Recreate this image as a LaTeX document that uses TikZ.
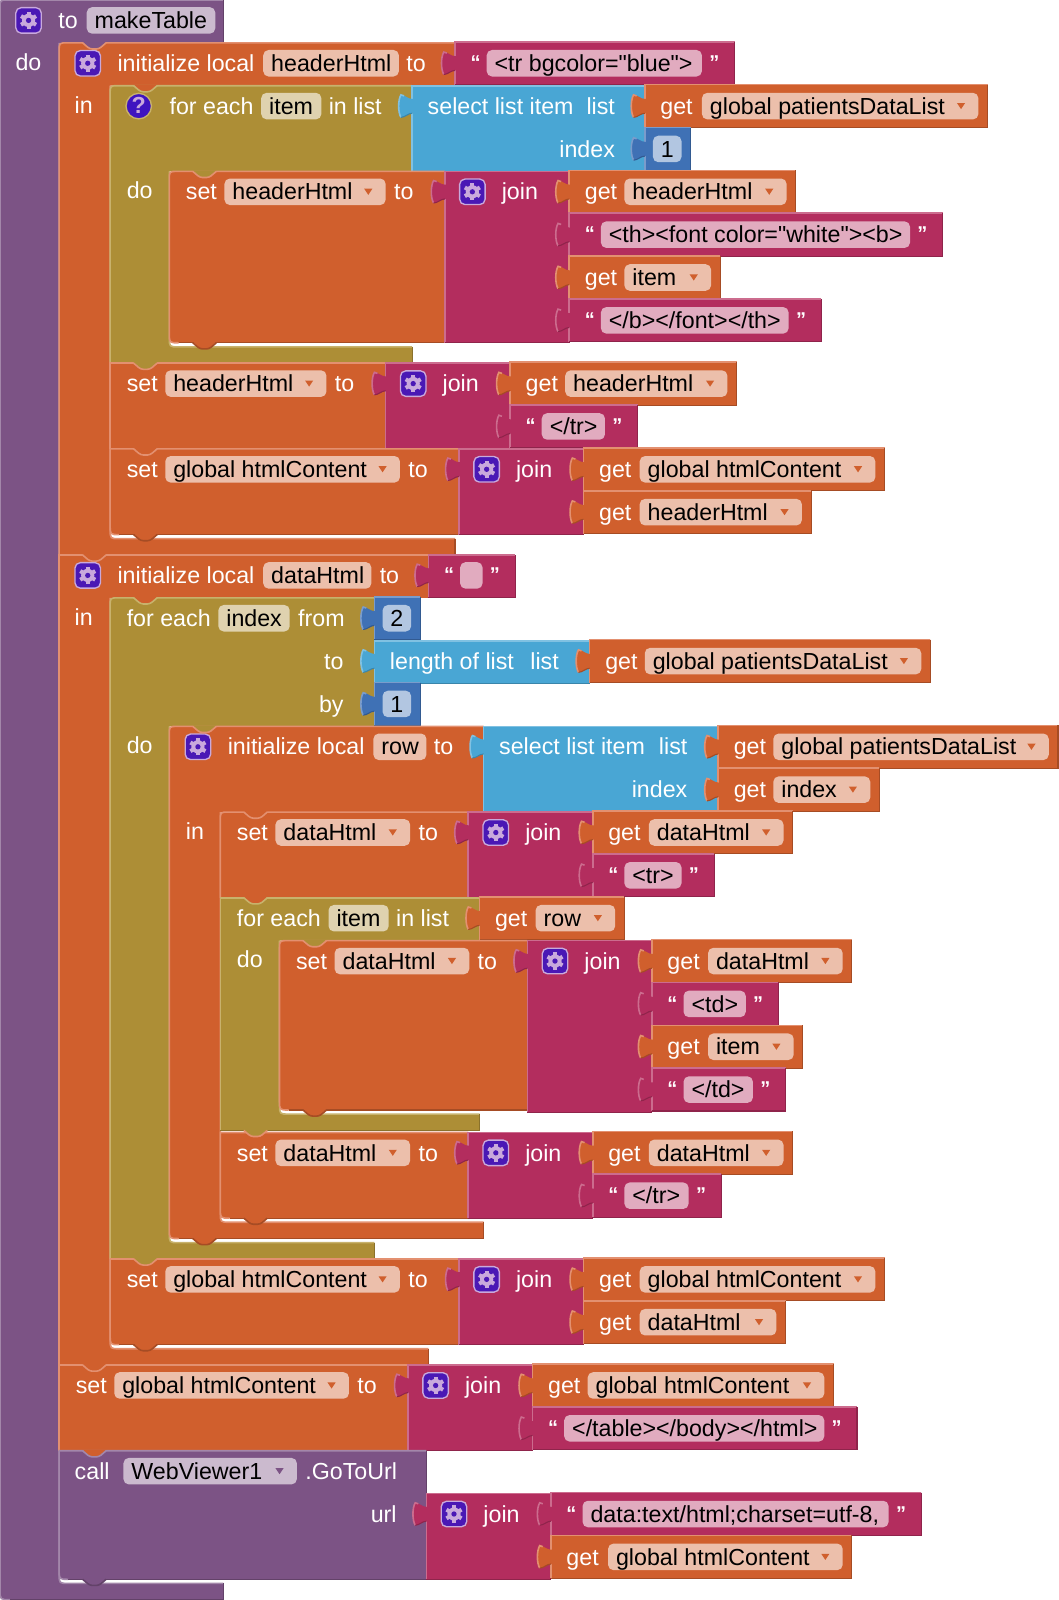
\documentclass[tikz,border=0pt]{standalone}
\usepackage{fontspec}
\defaultfontfeatures[\rmfamily]{}
\setmainfont{Liberation Sans}
\definecolor{purfill}{HTML}{7C5385}\definecolor{puredge}{HTML}{A387AA}\definecolor{purdark}{HTML}{634269}\definecolor{purfield}{HTML}{CBBACE}
\definecolor{orgfill}{HTML}{D05F2D}\definecolor{orgedge}{HTML}{E39070}\definecolor{orgdark}{HTML}{A64C24}\definecolor{orgfield}{HTML}{ECBFAB}
\definecolor{olvfill}{HTML}{AD8E36}\definecolor{olvedge}{HTML}{C8B26C}\definecolor{olvdark}{HTML}{8A712B}\definecolor{olvfield}{HTML}{DFD2AF}
\definecolor{magfill}{HTML}{B32D5E}\definecolor{magedge}{HTML}{CC6C8E}\definecolor{magdark}{HTML}{8F244B}\definecolor{magfield}{HTML}{E1ABBF}
\definecolor{bluefill}{HTML}{49A6D4}\definecolor{blueedge}{HTML}{80C1E2}\definecolor{bluedark}{HTML}{3A85AA}
\definecolor{numfill}{HTML}{3F71B5}\definecolor{numedge}{HTML}{7A9CCB}\definecolor{numdark}{HTML}{325A91}\definecolor{numfield}{HTML}{B2C6E1}
\definecolor{iconfill}{HTML}{4A18B5}\definecolor{iconedge}{HTML}{C9A9DC}
\newcommand\rowfont{\fontsize{17.42}{20}\selectfont}
\newcommand\quotefont{\fontsize{15}{18}\selectfont\bfseries}
\tikzset{
  lbl/.style={text=white,inner sep=0pt,anchor=base west,font=\rowfont},
  lblright/.style={lbl,anchor=base east},
  fldtxt/.style={lbl,text=black},
  numtxt/.style={fldtxt,anchor=base},
  quotetxt/.style={lbl,font=\quotefont},
  edgeline/.style={line width=1.2pt},
  darkline/.style={line width=0.8pt}
}
\newcounter{lblno}
\newcommand\lbl[3]{\stepcounter{lblno}\node[lbl] (t\arabic{lblno}) at (#1,#2+8) {#3};}
\newcommand\lblr[3]{\stepcounter{lblno}\node[lblright] (t\arabic{lblno}) at (#1,#2+8) {#3};}
% plain field, field with a drop arrow
\newcommand\fld[5]{\stepcounter{lblno}
  \fill[#1field,rounded corners=4pt] (#2,#4-13) rectangle (#3,#4+13);
  \node[fldtxt] (t\arabic{lblno}) at (#2+7.6,#4+8) {#5};}
\newcommand\fldd[5]{\fld{#1}{#2}{#3}{#4}{#5}
  \fill[#1fill] (#3-21,#4-3) -- (#3-13,#4-3) -- (#3-17,#4+3) -- cycle;}
% block with optional round corners: colour, top radius, bottom radius, x1, y1, x2, y2
\newcommand\sblock[7]{
  \fill[#1fill] (#4+#2,#5) -- (#6,#5) -- (#6,#7) -- (#4+#3,#7) .. controls (#4,#7) .. (#4,#7-#3) -- (#4,#5+#2) .. controls (#4,#5) .. (#4+#2,#5) -- cycle;
  \draw[edgeline,#1edge] (#4+#3,#7) .. controls (#4,#7) .. (#4,#7-#3) -- (#4,#5+#2) .. controls (#4,#5) .. (#4+#2,#5) -- (#6,#5);
  \draw[darkline,#1dark] (#4+#3,#7) -- (#6,#7) -- (#6,#5);
}
% C shape: colour, top radius, bottom radius, x0, y0, xr, y1, xi, y2
\newcommand\cblock[9]{
  \fill[#1fill] (#4+#2,#5) -- (#6,#5) -- (#6,#7) -- (#8,#7) -- (#8,#9-9) .. controls (#8,#9) .. (#8+9,#9) -- (#6,#9) -- (#6,#9+16) -- (#4+#3,#9+16) .. controls (#4,#9+16) .. (#4,#9+16-#3) -- (#4,#5+#2) .. controls (#4,#5) .. (#4+#2,#5) -- cycle;
  \draw[edgeline,#1edge] (#4+#3,#9+16) .. controls (#4,#9+16) .. (#4,#9+16-#3) -- (#4,#5+#2) .. controls (#4,#5) .. (#4+#2,#5) -- (#6,#5);
  \draw[edgeline,#1edge] (#8,#7) -- (#8,#9-9) .. controls (#8,#9) .. (#8+9,#9) -- (#6,#9);
  \draw[darkline,#1dark] (#4+#3,#9+16) -- (#6,#9+16) -- (#6,#9);
  \draw[darkline,#1dark] (#6,#7) -- (#6,#5);
}
% puzzle tab on the left side of a value block
\newcommand\plug[3]{
  \fill[#1fill] (#2+1,#3-7) -- (#2,#3-7) .. controls (#2-4,#3-7) and (#2-7,#3-11) .. (#2-11,#3-11)
    .. controls (#2-14,#3-6) and (#2-14,#3+6) .. (#2-11,#3+11)
    .. controls (#2-7,#3+11) and (#2-4,#3+7) .. (#2,#3+7) -- (#2+1,#3+7) -- cycle;
  \draw[edgeline,#1edge] (#2-8,#3-10) -- (#2-11,#3-11) .. controls (#2-14,#3-6) and (#2-14,#3+6) .. (#2-11,#3+11);
  \draw[darkline,#1dark] (#2-11,#3+11) .. controls (#2-7,#3+11) and (#2-4,#3+7) .. (#2,#3+7);
}
% the dip of one statement into the next one
\newcommand\notch[4]{
  \fill[#1] (#3+23,#4-1) -- (#3+30,#4+6) -- (#3+39,#4+6) -- (#3+46,#4-1) -- cycle;
  \draw[edgeline,#2,rounded corners=2pt] (#3+23,#4) -- (#3+30,#4+6) -- (#3+39,#4+6) -- (#3+46,#4);
}
\newcommand\gear[2]{
  \filldraw[fill=iconfill,draw=iconedge,line width=1pt,rounded corners=4pt] (#1-12.5,#2-12.5) rectangle (#1+12.5,#2+12.5);
  \foreach \a in {30,90,...,330} {
    \draw[iconedge,line width=3pt] (#1,#2) ++(\a:5) -- ++(\a:3.5);
  }
  \fill[iconedge] (#1,#2) circle (6.5);
  \fill[iconfill] (#1,#2) circle (2.6);
}
\newcommand\getblk[5]{ % x1, x2, row, field start, text
  \sblock{org}{0}{0}{#1}{#3-21}{#2}{#3+21}
  \plug{org}{#1}{#3}
  \lbl{#1+15}{#3}{get}
  \fldd{org}{#4}{#2-9}{#3}{#5}
}
\newcommand\qtl[2]{\stepcounter{lblno}\node[quotetxt] (t\arabic{lblno}) at (#1,#2+6) {“};}
\newcommand\qtr[2]{\stepcounter{lblno}\node[quotetxt] (t\arabic{lblno}) at (#1,#2+6) {”};}
\newcommand\strblk[4]{ % x1, x2, row, text
  \sblock{mag}{0}{0}{#1}{#3-21}{#2}{#3+21}
  \plug{mag}{#1}{#3}
  \qtl{#1+15}{#3}
  \fld{mag}{#1+31}{#2-32}{#3}{#4}
  \qtr{#2-25}{#3}
}
\newcommand\numblk[3]{ % x1, row, text
  \sblock{num}{0}{0}{#1}{#2-21}{#1+45}{#2+21}
  \plug{num}{#1}{#2}
  \fill[numfield,rounded corners=4pt] (#1+8,#2-13) rectangle (#1+36,#2+13);
  \stepcounter{lblno}\node[numtxt] (t\arabic{lblno}) at (#1+22,#2+8) {#3};
}
\newcommand\joinblk[4]{ % x1, x2, y1, y2
  \sblock{mag}{0}{0}{#1}{#3}{#2}{#4}
  \plug{mag}{#1}{#3+20}
  \gear{#1+27}{#3+20}
  \lbl{#1+55.6}{#3+20}{join}
}
\newcommand\setblk[9]{ % radius, radius, x1, y1, x2, y2, field end, name, to x
  \sblock{org}{#1}{#2}{#3}{#4}{#5}{#6}
  \lbl{#3+16}{#4+20}{set}
  \fldd{org}{#3+54}{#7}{#4+20}{#8}
  \lbl{#9}{#4+20}{to}
}
\begin{document}
\begin{tikzpicture}[x=0.7652pt,y=-0.7652pt]
  \useasboundingbox (0,0) rectangle (1038,1568.3);
  % procedure
  \cblock{pur}{8}{10}{0}{0}{219}{42}{58}{1552}
  \gear{28}{20}
  \lbl{57}{20}{to}
  \fld{pur}{85}{211}{20}{makeTable}
  \lbl{15}{61}{do}

  % initialize local headerHtml
  \cblock{org}{8}{0}{58}{42}{446}{84}{108}{528}
  \gear{86}{62}
  \lbl{115}{62}{initialize local}
  \fld{org}{258}{391}{62}{headerHtml}
  \lbl{398}{62}{to}
  \strblk{446}{720}{62}{<tr bgcolor="blue">}
  \lbl{73}{103}{in}

  \cblock{olv}{8}{0}{108}{84}{404}{168}{166}{340} % for each item
  \fill[iconfill!85!blue,draw=olvedge,line width=1pt] (136,104) circle (12.5);
  \node[lbl,anchor=base,font=\rowfont\bfseries,text=iconedge] (q1) at (136,111) {?};
  \lbl{166}{104}{for each}
  \fld{olv}{256}{315}{104}{item}
  \lbl{322}{104}{in list}
  \sblock{blue}{0}{0}{404}{84}{632}{168}
  \plug{blue}{404}{104}
  \lbl{419}{104}{select list item}
  \lblr{603}{104}{list}
  \lblr{603}{146}{index}
  \getblk{632}{968}{104}{688}{global patientsDataList}
  \numblk{632}{146}{1}
  \lbl{124}{187}{do}
  \setblk{8}{9}{166}{168}{436}{336}{378}{headerHtml}{386}
  \joinblk{436}{558}{168}{336}
  \getblk{558}{780}{188}{612}{headerHtml}
  \strblk{558}{924}{230}{<th><font color="white"><b>}
  \getblk{558}{706}{272}{612}{item}
  \strblk{558}{805}{314}{</b></font></th>}

  \setblk{0}{0}{108}{356}{378}{440}{320}{headerHtml}{328}
  \joinblk{378}{500}{356}{440}
  \getblk{500}{722}{376}{554}{headerHtml}
  \strblk{500}{625}{418}{</tr>}

  \setblk{0}{9}{108}{440}{450}{524}{392}{global htmlContent}{400}
  \joinblk{450}{572}{440}{524}
  \getblk{572}{867}{460}{627}{global htmlContent}
  \getblk{572}{795}{502}{627}{headerHtml}

  % initialize local dataHtml
  \cblock{org}{0}{0}{58}{544}{420}{586}{108}{1322}
  \gear{86}{564}
  \lbl{115}{564}{initialize local}
  \fld{org}{258}{364}{564}{dataHtml}
  \lbl{372}{564}{to}
  \sblock{mag}{0}{0}{420}{544}{505}{586}
  \plug{mag}{420}{564}
  \qtl{435}{564}
  \fill[magfield,rounded corners=4pt] (451,551) rectangle (473,577);
  \qtr{480}{564}
  \lbl{73}{605}{in}

  \cblock{olv}{8}{0}{108}{586}{367}{712}{166}{1218} % for each index
  \lbl{124}{606}{for each}
  \fld{olv}{214}{284}{606}{index}
  \lbl{292}{606}{from}
  \numblk{367}{606}{2}
  \lblr{337}{648}{to}
  \sblock{blue}{0}{0}{367}{628}{578}{670}
  \plug{blue}{367}{648}
  \lbl{382}{648}{length of list}
  \lblr{548}{648}{list}
  \getblk{578}{912}{648}{632}{global patientsDataList}
  \lblr{337}{690}{by}
  \numblk{367}{690}{1}
  \lbl{124}{731}{do}

  \cblock{org}{8}{9}{166}{712}{474}{796}{216}{1198} % initialize local row
  \gear{194}{732}
  \lbl{223}{732}{initialize local}
  \fld{org}{366}{418}{732}{row}
  \lbl{425}{732}{to}
  \sblock{blue}{0}{0}{474}{712}{704}{796}
  \plug{blue}{474}{732}
  \lbl{489}{732}{select list item}
  \lblr{674}{732}{list}
  \lblr{674}{774}{index}
  \getblk{704}{1037}{732}{758}{global patientsDataList}
  \getblk{704}{862}{774}{758}{index}
  \lbl{182}{815}{in}

  \setblk{8}{0}{216}{796}{459}{880}{402}{dataHtml}{410}
  \joinblk{459}{581}{796}{880}
  \getblk{581}{777}{816}{636}{dataHtml}
  \strblk{581}{700}{858}{<tr>}

  \cblock{olv}{0}{0}{216}{880}{470}{922}{274}{1092} % for each item
  \lbl{232}{900}{for each}
  \fld{olv}{322}{381}{900}{item}
  \lbl{388}{900}{in list}
  \getblk{470}{612}{900}{525}{row}
  \lbl{232}{940}{do}
  \setblk{8}{9}{274}{922}{517}{1088}{460}{dataHtml}{468}
  \joinblk{517}{639}{922}{1090}
  \getblk{639}{835}{942}{694}{dataHtml}
  \strblk{639}{763}{984}{<td>}
  \getblk{639}{787}{1026}{694}{item}
  \strblk{639}{770}{1068}{</td>}

  \setblk{0}{9}{216}{1110}{459}{1194}{402}{dataHtml}{410}
  \joinblk{459}{581}{1110}{1194}
  \getblk{581}{777}{1130}{636}{dataHtml}
  \strblk{581}{707}{1172}{</tr>}

  \setblk{0}{9}{108}{1234}{450}{1318}{392}{global htmlContent}{400}
  \joinblk{450}{572}{1234}{1318}
  \getblk{572}{867}{1254}{627}{global htmlContent}
  \getblk{572}{770}{1296}{627}{dataHtml}

  \setblk{0}{0}{58}{1338}{400}{1422}{342}{global htmlContent}{350}
  \joinblk{400}{522}{1338}{1422}
  \getblk{522}{817}{1358}{576}{global htmlContent}
  \strblk{522}{840}{1400}{</table></body></html>}

  % call
  \sblock{pur}{0}{9}{58}{1422}{418}{1548}
  \lbl{73}{1442}{call}
  \fldd{pur}{121}{291}{1442}{WebViewer1}
  \lbl{299}{1442}{.GoToUrl}
  \lblr{389}{1484}{url}
  \joinblk{418}{540}{1464}{1548}
  \strblk{540}{903}{1484}{data:text/html;charset=utf-8,}
  \getblk{540}{835}{1526}{596}{global htmlContent}

  % dips between statements
  \foreach \x/\y in {108/356,216/1108,108/1234,166/168,166/712,274/922} {
    \notch{olvfill}{orgedge}{\x}{\y}
  }
  \foreach \x/\y in {108/440,58/544,58/1338,216/796} {
    \notch{orgfill}{orgedge}{\x}{\y}
  }
  \foreach \x/\y in {108/84,108/586,216/880} {
    \notch{orgfill}{olvedge}{\x}{\y}
  }
  \notch{orgfill}{puredge}{58}{1422}
  \notch{purfill}{orgedge}{58}{42}
  \foreach \x/\y in {166/336,108/524,274/1088,216/1194,166/1214,108/1318} {
    \notch{orgfill}{orgdark}{\x}{\y}
  }
  \notch{purfill}{purdark}{58}{1548}
\end{tikzpicture}
\end{document}
